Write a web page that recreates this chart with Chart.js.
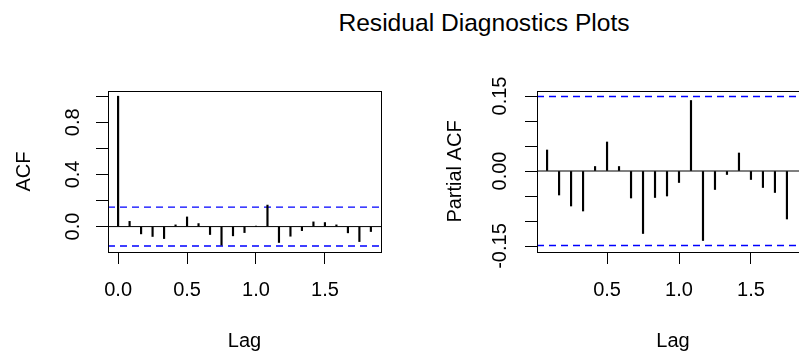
<!DOCTYPE html>
<html><head><meta charset="utf-8">
<script src="https://cdn.jsdelivr.net/npm/chart.js@4"></script>
<style>
html,body{margin:0;padding:0;background:#fff;overflow:hidden;width:799px;height:353px;}
#title{position:absolute;left:0;width:968px;top:11px;text-align:center;font:24.6px "Liberation Sans",Arial,sans-serif;line-height:24px;color:#000;}
#c1{position:absolute;left:0;top:0;}
#c2{position:absolute;left:420px;top:0;}
</style></head><body>
<div id="title">Residual Diagnostics Plots</div>
<canvas id="c1" width="420" height="353"></canvas>
<canvas id="c2" width="400" height="353"></canvas>
<script>
// ---- data ----
const ACF_LAGS = [0, 0.0833, 0.1667, 0.25, 0.3333, 0.4167, 0.5, 0.5833, 0.6667, 0.75, 0.8333, 0.9167, 1.0, 1.0833, 1.1667, 1.25, 1.3333, 1.4167, 1.5, 1.5833, 1.6667, 1.75, 1.8333];
const ACF_VALUES = [1.0, 0.040, -0.056, -0.076, -0.092, 0.013, 0.074, 0.023, -0.061, -0.142, -0.071, -0.046, 0.002, 0.165, -0.122, -0.074, -0.031, 0.036, 0.031, 0.013, -0.048, -0.115, -0.038];
const PACF_LAGS = [0.0833, 0.1667, 0.25, 0.3333, 0.4167, 0.5, 0.5833, 0.6667, 0.75, 0.8333, 0.9167, 1.0, 1.0833, 1.1667, 1.25, 1.3333, 1.4167, 1.5, 1.5833, 1.6667, 1.75];
const PACF_VALUES = [0.042, -0.048, -0.070, -0.080, 0.009, 0.058, 0.009, -0.054, -0.125, -0.053, -0.050, -0.023, 0.141, -0.139, -0.037, -0.007, 0.036, -0.017, -0.033, -0.043, -0.096];
const CONF_BOUND = 0.149;

const ACF_X_LIMITS = [-0.0733, 1.9067];
const ACF_Y_LIMITS = [-0.195, 1.04];
const PACF_X_LIMITS = [0.0133, 1.9033];
const PACF_Y_LIMITS = [-0.162, 0.160];

const ACF_X_TICKS = [0, 0.5, 1.0, 1.5];
const ACF_X_LABELS = ['0.0', '0.5', '1.0', '1.5'];
const PACF_X_TICKS = [0.5, 1.0, 1.5];
const PACF_X_LABELS = ['0.5', '1.0', '1.5'];
const ACF_Y_TICKS = [0, 0.2, 0.4, 0.6, 0.8, 1.0];
const ACF_Y_LABELS = ['0.0', '', '0.4', '', '0.8', ''];
const PACF_Y_TICKS = [-0.15, -0.10, -0.05, 0, 0.05, 0.10, 0.15];
const PACF_Y_LABELS = ['-0.15', '', '', '0.00', '', '', '0.15'];

// ---- styling ----
Chart.defaults.font.family = '"Liberation Sans", Arial, sans-serif';
Chart.defaults.font.size = 20;
Chart.defaults.color = '#000';

const boxPlugin = {
  id: 'box',
  afterDraw(chart) {
    const {ctx, chartArea: a} = chart;
    ctx.save();
    ctx.strokeStyle = '#000';
    ctx.lineWidth = 1;
    ctx.setLineDash([]);
    ctx.strokeRect(Math.round(a.left) + 0.5, Math.round(a.top) + 0.5,
                   Math.round(a.right - a.left), Math.round(a.bottom - a.top));
    ctx.restore();
  }
};

function makePanel(canvasId, cfg) {
  const hLine = (y, color, dash, w) => ({
    type: 'line',
    data: [{x: cfg.xLim[0], y: y}, {x: cfg.xLim[1], y: y}],
    borderColor: color, borderDash: dash, borderWidth: w,
    pointRadius: 0, fill: false, tension: 0
  });
  return new Chart(document.getElementById(canvasId), {
    type: 'bar',
    data: {
      datasets: [
        {
          type: 'bar',
          data: cfg.lags.map((l, i) => ({x: l, y: cfg.values[i]})),
          backgroundColor: '#000', borderWidth: 0, barThickness: 1.5
        },
        hLine(0, '#000', [], 1),
        hLine(CONF_BOUND, '#0000FF', [7, 5], 1.4),
        hLine(-CONF_BOUND, '#0000FF', [7, 5], 1.4)
      ]
    },
    options: {
      responsive: false,
      animation: false,
      events: [],
      layout: {padding: {top: 91, right: cfg.padRight, bottom: 0, left: 0}},
      plugins: {legend: {display: false}, tooltip: {enabled: false}, title: {display: false}},
      scales: {
        x: {
          type: 'linear', offset: false, min: cfg.xLim[0], max: cfg.xLim[1], bounds: 'data',
          afterBuildTicks: s => { s.ticks = cfg.xTicks.map(v => ({value: v})); },
          afterFit: s => { s.height = 101; },
          ticks: {
            autoSkip: false, padding: 14, maxRotation: 0, minRotation: 0,
            callback: (v, i) => cfg.xLabels[i]
          },
          grid: {offset: false, drawOnChartArea: false, drawTicks: true, tickLength: 12, color: '#000', lineWidth: 1},
          border: {display: false},
          title: {display: true, text: 'Lag', font: {size: 20, lineHeight: 1.2}, padding: {top: 0, bottom: 0}}
        },
        y: {
          type: 'linear', min: cfg.yLim[0], max: cfg.yLim[1], bounds: 'data',
          afterBuildTicks: s => { s.ticks = cfg.yTicks.map(v => ({value: v})); },
          afterFit: s => { s.width = cfg.yWidth; },
          ticks: {
            autoSkip: false, minRotation: 90, maxRotation: 90, crossAlign: 'center',
            padding: cfg.yTickPad,
            callback: (v, i) => cfg.yLabels[i]
          },
          grid: {drawOnChartArea: false, drawTicks: true, tickLength: 12, color: '#000', lineWidth: 1},
          border: {display: false},
          title: {display: true, text: cfg.yTitle, font: {size: 20, lineHeight: 1.2}, padding: {top: cfg.yTitlePad, bottom: 0}}
        }
      }
    },
    plugins: [boxPlugin]
  });
}

makePanel('c1', {
  lags: ACF_LAGS, values: ACF_VALUES,
  xLim: ACF_X_LIMITS, yLim: ACF_Y_LIMITS,
  xTicks: ACF_X_TICKS, xLabels: ACF_X_LABELS,
  yTicks: ACF_Y_TICKS, yLabels: ACF_Y_LABELS,
  yTitle: 'ACF', yWidth: 108, padRight: 39, yTickPad: 9, yTitlePad: 12
});
makePanel('c2', {
  lags: PACF_LAGS, values: PACF_VALUES,
  xLim: PACF_X_LIMITS, yLim: PACF_Y_LIMITS,
  xTicks: PACF_X_TICKS, xLabels: PACF_X_LABELS,
  yTicks: PACF_Y_TICKS, yLabels: PACF_Y_LABELS,
  yTitle: 'Partial ACF', yWidth: 117, padRight: 11, yTickPad: 2, yTitlePad: 23
});
</script>
</body></html>
